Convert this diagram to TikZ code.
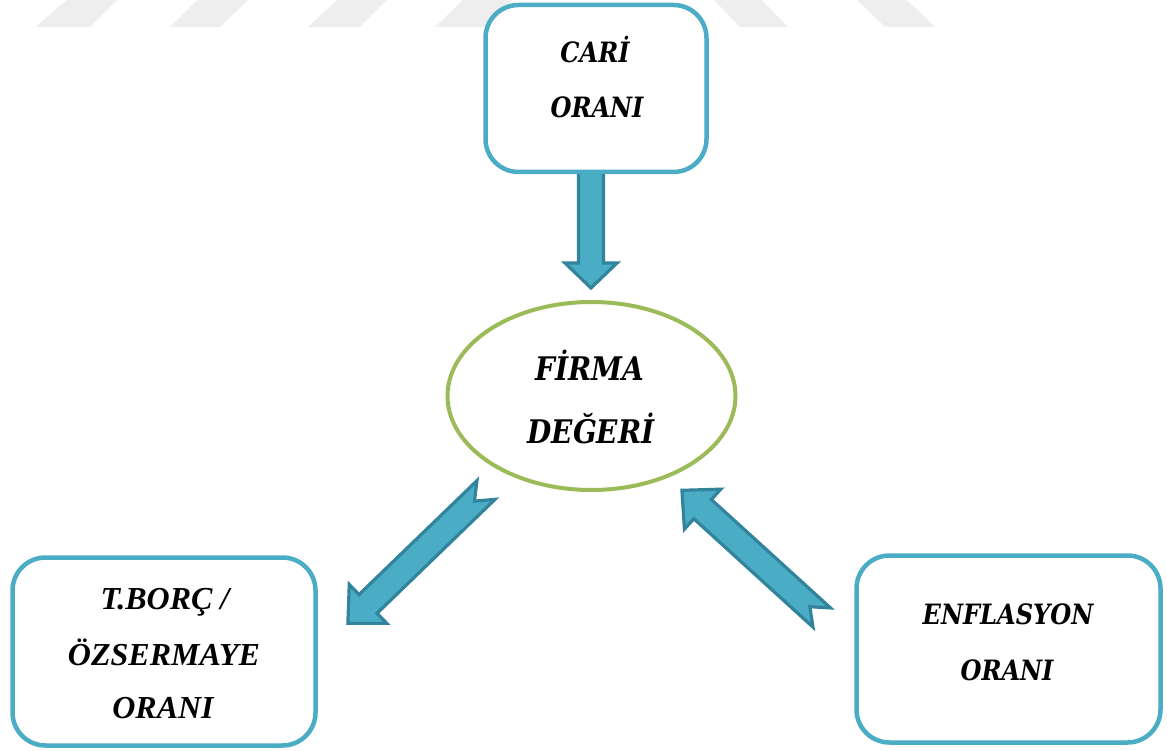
\documentclass[tikz,border=0pt]{standalone}
\usepackage{fontspec}
\newfontfamily\headfont{DejaVu Serif}[FakeStretch=0.86]
\newfontfamily\timesfont{Liberation Serif}
\usetikzlibrary{shapes.geometric}
\definecolor{boxblue}{HTML}{4BACC6}
\definecolor{arrowedge}{HTML}{31849B}
\definecolor{ovalgreen}{HTML}{9BBB59}
\definecolor{marks}{HTML}{EEEEEE}

% block arrow: #1 tail point, #2 direction, #3 length, #4 half shaft width,
% #5 half head width, #6 head length, #7 depth of the tail notch
\newcommand\blockarrow[7]{%
  \path[arrowbody, shift={#1}, rotate=#2]
    (0,#4) -- ({#3-#6},#4) -- ({#3-#6},#5) -- (#3,0) -- ({#3-#6},-#5)
    -- ({#3-#6},-#4) -- (0,-#4) -- (#7,0) -- cycle;}

\begin{document}
\begin{tikzpicture}[x=1pt,y=-1pt,
  infobox/.style={draw=boxblue, line width=4.5pt, fill=white, rounded corners=33pt,
                  rectangle, inner sep=0pt},
  oval/.style={draw=ovalgreen, line width=4pt, fill=white, ellipse, inner sep=0pt,
               minimum width=288pt, minimum height=188pt},
  arrowbody/.style={fill=boxblue, draw=arrowedge, line width=3.2pt, line join=miter},
  headtext/.style={font=\headfont\bfseries\itshape\fontsize{28}{30}\selectfont,
                   anchor=base, inner sep=0pt},
  bigtext/.style={font=\headfont\bfseries\itshape\fontsize{32.5}{34}\selectfont,
                  anchor=base, inner sep=0pt},
  romantext/.style={font=\timesfont\bfseries\itshape\fontsize{32}{34}\selectfont,
                    anchor=base, inner sep=0pt},
  stripe/.style={fill=marks, draw=none}]
\useasboundingbox (0,0) rectangle (1167,751);

% faint diagonal band along the top edge
\fill[stripe] (67,0) -- (117,0) -- (90,27) -- (35,27) -- cycle;
\fill[stripe] (197,0) -- (248,0) -- (220,27) -- (170,27) -- cycle;
\fill[stripe] (337,0) -- (387,0) -- (360,27) -- (308,27) -- cycle;
\fill[stripe] (463,0) -- (513,0) -- (486,27) -- (435,27) -- cycle;
\fill[stripe] (714,0) -- (762,0) -- (788,27) -- (740,27) -- cycle;
\fill[stripe] (857,0) -- (907,0) -- (935,27) -- (885,27) -- cycle;

% arrow tails
\coordinate (cariTail) at (591,165);
\coordinate (firmaTail) at (486,490);
\coordinate (enfTail) at (821.7,617.5);

% arrows
\blockarrow{(cariTail)}{-90}{123}{12.5}{26}{25}{0}
\blockarrow{(firmaTail)}{224}{192}{13}{27}{28}{16}
\blockarrow{(enfTail)}{137.7}{189}{13}{27}{28}{16}

% boxes and oval
\node[infobox, minimum width=221pt, minimum height=167pt] (cari) at (596,88.5) {};
\node[oval] (firma) at (591.5,396) {};
\node[infobox, minimum width=303pt, minimum height=188pt] (borc) at (164,651.5) {};
\node[infobox, minimum width=304pt, minimum height=187pt] (enf) at (1008.5,649) {};

% texts
\node[headtext] (cariA) at (595,63) {CARİ};
\node[headtext] (cariB) at (597,118) {ORANI};
\node[bigtext] (firmaA) at (590,380) {FİRMA};
\node[bigtext] (firmaB) at (591,443) {DEĞERİ};
\node[romantext] (borcA) at (165,609) {T.BORÇ /};
\node[romantext] (borcB) at (164,665) {ÖZSERMAYE};
\node[romantext] (borcC) at (163,718) {ORANI};
\node[headtext] (enfA) at (1008,624) {ENFLASYON};
\node[headtext] (enfB) at (1007,680) {ORANI};
\end{tikzpicture}
\end{document}
